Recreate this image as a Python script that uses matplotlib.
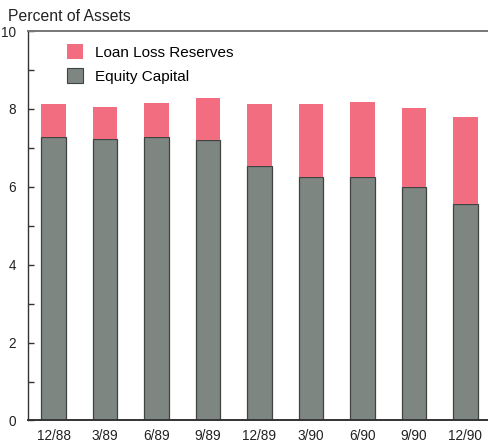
import matplotlib
matplotlib.use("Agg")
import matplotlib.pyplot as plt
from matplotlib.patches import Patch

plt.rcParams['font.family'] = ['Liberation Sans', 'DejaVu Sans']

quarters = ["12/88", "3/89", "6/89", "9/89", "12/89", "3/90", "6/90", "9/90", "12/90"]
equity_capital = [7.29, 7.24, 7.29, 7.21, 6.53, 6.24, 6.24, 6.00, 5.56]
total_capital = [8.13, 8.06, 8.16, 8.28, 8.13, 8.14, 8.17, 8.02, 7.80]
loan_loss_reserves = [t - e for t, e in zip(total_capital, equity_capital)]

pink = "#f26d80"
gray = "#7e8682"
edge = "#3f4442"

fig = plt.figure(figsize=(4.88, 4.44), dpi=100)
ax = fig.add_axes([0.058, 0.053, 0.942, 0.877])

x = list(range(len(quarters)))
width = 0.48
ax.bar(x, equity_capital, width=width, color=gray, edgecolor=edge, linewidth=0.9)
ax.bar(x, loan_loss_reserves, width=width, bottom=equity_capital,
       color=pink, edgecolor="none")

ax.set_xlim(-0.49, 8.44)
ax.set_ylim(0, 10)
ax.set_xticks(x)
ax.set_xticklabels(quarters, fontsize=9.8, color="#222222")
ax.tick_params(axis="x", length=0, pad=6)
ax.set_yticks([0, 2, 4, 6, 8, 10])
ax.set_yticklabels(["0", "2", "4", "6", "8", "10"], fontsize=9.8, color="#222222")
ax.set_yticks([1, 3, 5, 7, 9], minor=True)
ax.tick_params(axis="y", which="both", direction="in", length=4, width=1.0,
               color="#333333", pad=9)

ax.spines["right"].set_visible(False)
ax.spines["left"].set_color("#333333")
ax.spines["left"].set_linewidth(1.0)
ax.spines["bottom"].set_color("#333333")
ax.spines["bottom"].set_linewidth(1.4)
ax.spines["top"].set_color("#777777")
ax.spines["top"].set_linewidth(1.4)

handles = [Patch(facecolor=pink, edgecolor="none", label="Loan Loss Reserves"),
           Patch(facecolor=gray, edgecolor=edge, linewidth=0.8, label="Equity Capital")]
ax.legend(handles=handles, loc="upper left", bbox_to_anchor=(0.07, 0.983),
          frameon=False, fontsize=11, handlelength=1.1, handleheight=1.15,
          handletextpad=0.75, labelspacing=0.55, borderaxespad=0)

fig.text(0.016, 0.962, "Percent of Assets", fontsize=11.3, color="#222222",
         ha="left", va="center")

fig.savefig("out.png", dpi=100)
